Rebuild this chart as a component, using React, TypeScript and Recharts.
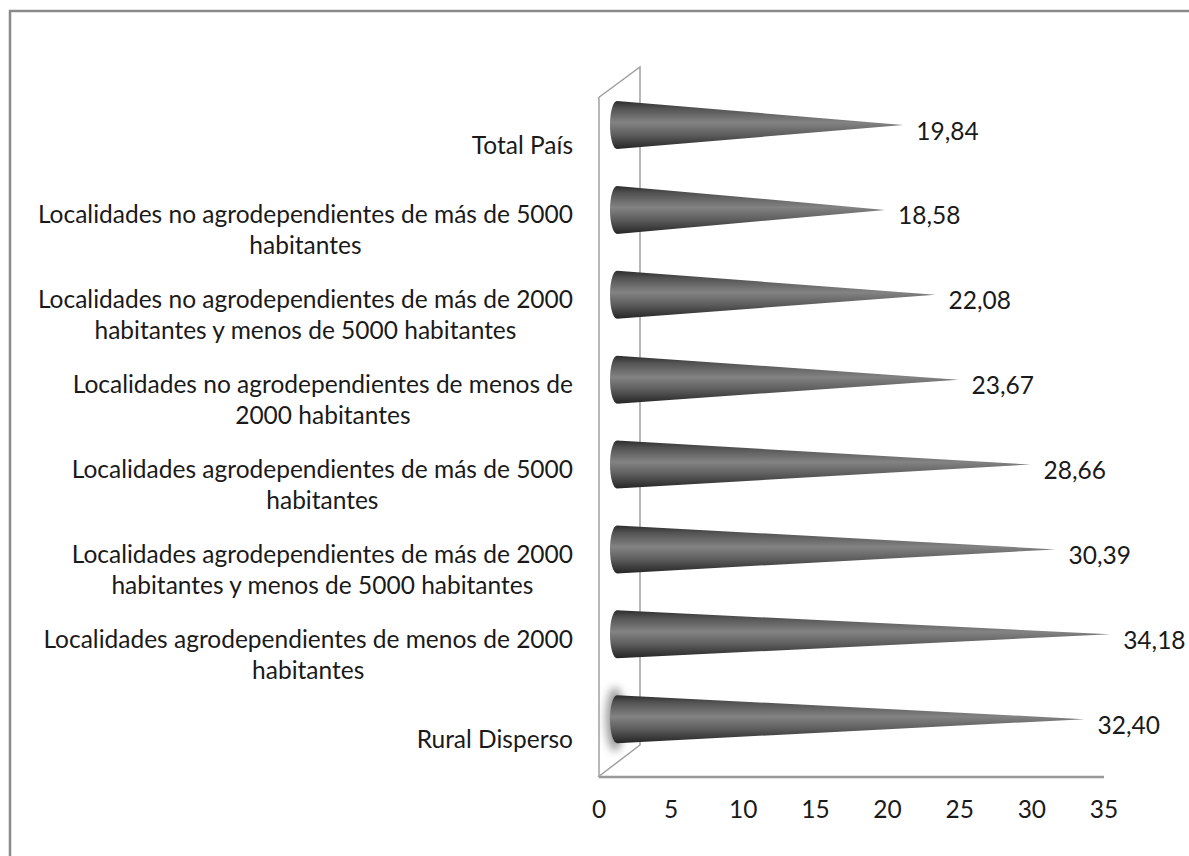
import { BarChart, Bar, XAxis, YAxis, LabelList } from 'recharts'

const categories = [
  'Total País',
  'Localidades no agrodependientes de más de 5000\nhabitantes',
  'Localidades no agrodependientes de más de 2000\nhabitantes y menos de 5000 habitantes',
  'Localidades no agrodependientes de menos de\n2000 habitantes',
  'Localidades agrodependientes de más de 5000\nhabitantes',
  'Localidades agrodependientes de más de 2000\nhabitantes y menos de 5000 habitantes',
  'Localidades agrodependientes de menos de 2000\nhabitantes',
  'Rural Disperso',
]
const values = [19.84, 18.58, 22.08, 23.67, 28.66, 30.39, 34.18, 32.4]
const xTicks = [0, 5, 10, 15, 20, 25, 30, 35]

const data = categories.map((name, i) => ({ name, value: values[i] }))

const FONT = 'Lato, "Noto Sans", sans-serif'
const FONT_SIZE = 24.5
// depth shift of the cones (they sit between the front and back wall)
const DX = 18
const DY = -15
const RX = 7

const Cone = (props: any) => {
  const { x, y, width, height, index } = props
  const cy = y + height / 2 + DY
  const top = cy - height / 2
  const bottom = cy + height / 2
  const x0 = x + DX
  const tip = x + width + DX
  return (
    <g>
      {index === values.length - 1 && (
        <ellipse cx={x0 - 2} cy={cy} rx={9} ry={height / 2 + 8} fill="#9a9a9a" filter="url(#glow)" />
      )}
      <path
        d={`M ${x0} ${top} L ${tip} ${cy} L ${x0} ${bottom} A ${RX} ${height / 2} 0 0 1 ${x0} ${top} Z`}
        fill="url(#coneGrad)"
      />
    </g>
  )
}

const ValueLabel = (props: any) => {
  const { x, y, width, height, value } = props
  return (
    <text
      x={x + width + DX + 13}
      y={y + height / 2 + DY + 6}
      dy="0.35em"
      fontFamily={FONT}
      fontSize={FONT_SIZE}
      fill="#1a1a1a"
    >
      {Number(value).toFixed(2).replace('.', ',')}
    </text>
  )
}

const CategoryTick = (props: any) => {
  const { x, y, payload } = props
  const lines = String(payload.value).split('\n')
  const lh = 31
  const start = y + 5 - ((lines.length - 1) * lh) / 2
  const shift = Math.max(...lines.map(l => measure(l))) / 2
  return (
    <text fontFamily={FONT} fontSize={FONT_SIZE} fill="#1a1a1a" textAnchor="middle">
      {lines.map((l, i) => (
        <tspan key={i} x={x - shift} y={start + i * lh} dy="0.35em">
          {l}
        </tspan>
      ))}
    </text>
  )
}

let ctx: CanvasRenderingContext2D | null = null
function measure(s: string) {
  if (!ctx) ctx = document.createElement('canvas').getContext('2d')
  if (!ctx) return s.length * 11
  ctx.font = `${FONT_SIZE}px Lato`
  return ctx.measureText(s).width
}

export default function App() {
  return (
    <div style={{ position: 'absolute', left: 0, top: 0, width: 1189, height: 856, background: '#fff' }}>
      <svg width={1189} height={856} style={{ position: 'absolute', left: 0, top: 0 }}>
        <path d="M 10 856 L 10 11 L 1189 11" fill="none" stroke="#8a8a8a" strokeWidth={2.5} />
        <polyline points="598,98 640,67 640,745 598,777" fill="none" stroke="#a0a0a0" strokeWidth={1.5} />
      </svg>
      <div style={{ position: 'absolute', left: 0, top: 0 }}>
        <BarChart
          width={1189}
          height={856}
          data={data}
          layout="vertical"
          margin={{ top: 98, right: 85, bottom: 29, left: 9 }}
          barCategoryGap={0}
        >
          <defs>
            <linearGradient id="coneGrad" x1="0" y1="0" x2="0" y2="1">
              <stop offset="0" stopColor="#2c2c2c" />
              <stop offset="0.15" stopColor="#525252" />
              <stop offset="0.45" stopColor="#838383" />
              <stop offset="0.7" stopColor="#5e5e5e" />
              <stop offset="1" stopColor="#252525" />
            </linearGradient>
            <filter id="glow" x="-200%" y="-50%" width="500%" height="200%">
              <feGaussianBlur stdDeviation="4" />
            </filter>
          </defs>
          <XAxis
            type="number"
            domain={[0, 35]}
            ticks={xTicks}
            interval={0}
            tickLine={false}
            tickSize={0}
            tickMargin={24}
            axisLine={{ stroke: '#999', strokeWidth: 2.5 }}
            height={50}
            tick={{ fontFamily: FONT, fontSize: FONT_SIZE, fill: '#1a1a1a' }}
          />
          <YAxis
            type="category"
            dataKey="name"
            width={590}
            tickLine={false}
            tickSize={0}
            tickMargin={26}
            axisLine={{ stroke: '#a0a0a0', strokeWidth: 1.5 }}
            interval={0}
            tick={<CategoryTick />}
          />
          <Bar dataKey="value" barSize={48} shape={<Cone />} isAnimationActive={false}>
            <LabelList dataKey="value" content={<ValueLabel />} />
          </Bar>
        </BarChart>
      </div>
    </div>
  )
}
